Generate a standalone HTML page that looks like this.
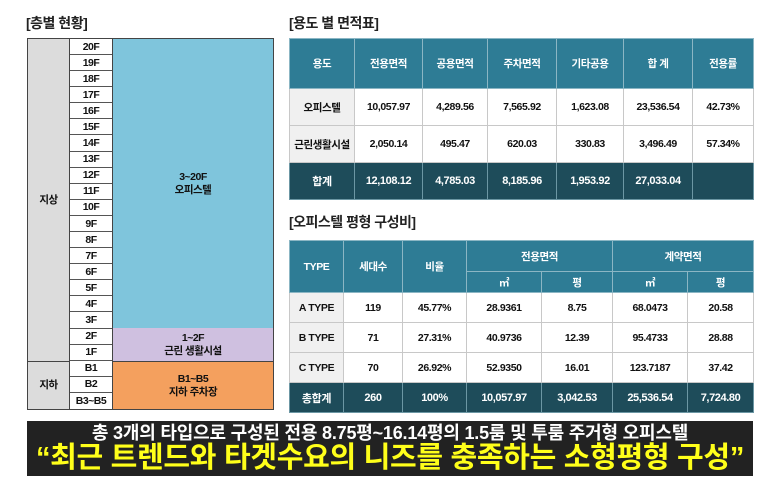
<!DOCTYPE html>
<html><head><meta charset="utf-8"><style>
*{margin:0;padding:0;box-sizing:border-box}
body{width:771px;height:485px;background:#fff;position:relative;overflow:hidden;font-family:"Liberation Sans","Noto Sans CJK KR",sans-serif}
.a{position:absolute}
.t{font-size:14px;font-weight:bold;color:#222;letter-spacing:-0.5px}
.c{position:absolute;display:flex;align-items:center;justify-content:center;text-align:center;font-size:10.5px;font-weight:bold;color:#111;letter-spacing:-0.5px;line-height:1.15}
table{border-collapse:collapse;position:absolute;table-layout:fixed}
td{text-align:center;font-size:10.5px;font-weight:bold;letter-spacing:-0.4px;color:#111;border:1px solid #c8c8c8;background:#fff}
td.h{background:#2e7c95;color:#fff;border-color:#8bb6c4}
td.tt{background:#1e4c5a;color:#fff;border-color:#6c97a4;font-size:11px}
td.g{background:#f0f0f0}
</style></head><body>
<div class="a t" style="left:26px;top:13px">[층별 현황]</div>
<div class="a t" style="left:289px;top:13px">[용도 별 면적표]</div>
<div class="a t" style="left:289px;top:212px">[오피스텔 평형 구성비]</div>

<div class="a" style="left:27px;top:38px;width:247px;height:372px;border:1px solid #444;background:#fff"></div>
<div class="c" style="left:28px;top:39px;width:42px;height:322px;background:#dcdcdc;border-right:1px solid #444">지상</div>
<div class="c" style="left:28px;top:361px;width:42px;height:48px;background:#dcdcdc;border-right:1px solid #444;border-top:1px solid #444">지하</div>
<div class="c" style="left:113px;top:39px;width:160px;height:289px;background:#7fc5dc;font-weight:bold">3~20F<br>오피스텔</div>
<div class="c" style="left:113px;top:328px;width:160px;height:33px;background:#cfc0e0">1~2F<br>근린 생활시설</div>
<div class="c" style="left:113px;top:361px;width:160px;height:48px;background:#f4a05e;border-top:1px solid #444">B1~B5<br>지하 주차장</div>
<div class="a" style="left:112px;top:38px;width:1px;height:372px;background:#444"></div>
<div id="fl"></div>
<script>
var f=["20F","19F","18F","17F","16F","15F","14F","13F","12F","11F","10F","9F","8F","7F","6F","5F","4F","3F","2F","1F","B1","B2","B3~B5"];
var h="";var y0=39,r=(409-39)/23;
for(var i=0;i<23;i++){h+='<div class="c" style="left:70px;top:'+(y0+i*r).toFixed(1)+'px;width:42px;height:'+r.toFixed(1)+'px;border-bottom:'+(i<22?'1px solid #555':'none')+';background:#fff">'+f[i]+'</div>';}
document.getElementById("fl").outerHTML=h;
</script>

<table style="left:289px;top:38px;width:464px">
<colgroup><col style="width:65px"><col style="width:68px"><col style="width:65px"><col style="width:69px"><col style="width:67px"><col style="width:69px"><col style="width:61px"></colgroup>
<tr style="height:50px"><td class="h">용도</td><td class="h">전용면적</td><td class="h">공용면적</td><td class="h">주차면적</td><td class="h">기타공용</td><td class="h">합 계</td><td class="h">전용률</td></tr>
<tr style="height:37px"><td class="g">오피스텔</td><td>10,057.97</td><td>4,289.56</td><td>7,565.92</td><td>1,623.08</td><td>23,536.54</td><td>42.73%</td></tr>
<tr style="height:37px"><td class="g">근린생활시설</td><td>2,050.14</td><td>495.47</td><td>620.03</td><td>330.83</td><td>3,496.49</td><td>57.34%</td></tr>
<tr style="height:37px"><td class="tt">합계</td><td class="tt">12,108.12</td><td class="tt">4,785.03</td><td class="tt">8,185.96</td><td class="tt">1,953.92</td><td class="tt">27,033.04</td><td class="tt"></td></tr>
</table>

<table style="left:289px;top:240px;width:464px">
<colgroup><col style="width:54px"><col style="width:59px"><col style="width:64px"><col style="width:75px"><col style="width:71px"><col style="width:75px"><col style="width:66px"></colgroup>
<tr style="height:31px"><td class="h" rowspan="2">TYPE</td><td class="h" rowspan="2">세대수</td><td class="h" rowspan="2">비율</td><td class="h" colspan="2">전용면적</td><td class="h" colspan="2">계약면적</td></tr>
<tr style="height:21px"><td class="h">㎡</td><td class="h">평</td><td class="h">㎡</td><td class="h">평</td></tr>
<tr style="height:30px"><td class="g">A TYPE</td><td>119</td><td>45.77%</td><td>28.9361</td><td>8.75</td><td>68.0473</td><td>20.58</td></tr>
<tr style="height:30px"><td class="g">B TYPE</td><td>71</td><td>27.31%</td><td>40.9736</td><td>12.39</td><td>95.4733</td><td>28.88</td></tr>
<tr style="height:30px"><td class="g">C TYPE</td><td>70</td><td>26.92%</td><td>52.9350</td><td>16.01</td><td>123.7187</td><td>37.42</td></tr>
<tr style="height:30px"><td class="tt">총합계</td><td class="tt">260</td><td class="tt">100%</td><td class="tt">10,057.97</td><td class="tt">3,042.53</td><td class="tt">25,536.54</td><td class="tt">7,724.80</td></tr>
</table>

<div class="a" style="left:27px;top:421px;width:726px;height:55px;background:#222"></div>
<div class="a" style="left:27px;top:422px;width:726px;text-align:center;color:#fff;font-size:18px;font-weight:bold;letter-spacing:-0.2px;line-height:22px">총 3개의 타입으로 구성된 전용 8.75평~16.14평의 1.5룸 및 투룸 주거형 오피스텔</div>
<div class="a" style="left:27px;top:442px;width:726px;text-align:center;color:#ffff1a;font-size:29px;font-weight:bold;letter-spacing:-0.3px;line-height:33px">“최근 트렌드와 타겟수요의 니즈를 충족하는 소형평형 구성”</div>
</body></html>
